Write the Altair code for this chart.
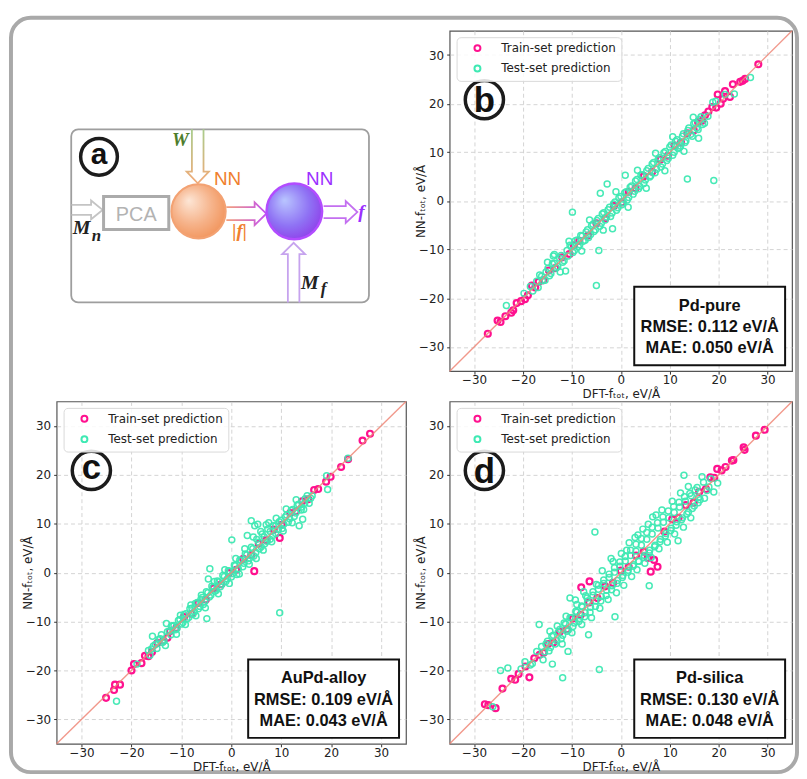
import altair as alt
import pandas as pd

# ---------------- data ----------------
SETS = ["Train-set prediction", "Test-set prediction"]
TICKS = [-30, -20, -10, 0, 10, 20, 30]
LIMITS = [-35, 35]
X_TITLE = "DFT-fₜₒₜ, eV/Å"
Y_TITLE = "NN-fₜₒₜ, eV/Å"

# (DFT force, NN force) pairs, eV/Å
b_train = [(28.1, 28.1), (25.4, 25.1), (24.9, 24.7), (24.4, 24.5), (22.9, 24.0), (22.3, 21.4), (21.3, 22.6),
           (20.9, 21.0), (20.4, 20.0), (19.8, 21.9), (19.5, 19.2), (18.7, 19.3), (17.9, 18.4), (17.2, 17.6),
           (16.6, 16.5), (15.8, 16.2), (14.9, 14.5), (13.6, 13.9), (12.3, 12.0), (11.0, 11.4), (9.6, 9.3),
           (8.1, 8.5), (6.4, 6.0), (4.7, 5.1), (3.0, 2.6), (1.6, 1.9), (0.2, -0.3), (-1.4, -1.0), (-3.2, -3.6),
           (-5.0, -4.6), (-6.7, -7.1), (-8.5, -8.2), (-9.6, -9.1), (-10.5, -10.9), (-12.0, -11.6), (-13.4, -13.8),
           (-14.7, -14.3), (-15.9, -16.3), (-16.8, -16.6), (-17.5, -17.8), (-18.2, -17.4), (-19.0, -19.4),
           (-19.6, -20.2), (-20.4, -20.6), (-21.3, -21.0), (-22.0, -22.5), (-22.4, -23.0), (-23.6, -23.7),
           (-24.6, -24.9), (-25.2, -24.6), (-27.2, -27.3)]
b_test = [(-23.4, -21.5), (-19.8, -19.0), (-18.5, -17.6), (-18.0, -18.5), (-17.2, -16.5), (-16.6, -15.2),
          (-16.0, -16.4), (-15.3, -14.6), (-14.6, -15.4), (-14.0, -12.9), (-13.8, -11.3), (-13.6, -11.0),
          (-13.2, -13.8), (-12.5, -11.8), (-11.9, -12.6), (-11.3, -14.4), (-11.0, -10.2), (-10.4, -9.1),
          (-9.9, -2.3), (-9.8, -10.6), (-9.3, -8.2), (-8.7, -9.4), (-8.2, -7.1), (-7.7, -8.3), (-7.1, -6.4),
          (-6.6, -7.5), (-6.0, -5.1), (-5.5, -6.3), (-5.0, -17.4), (-4.9, -4.0), (-4.5, -10.2), (-4.3, -5.2),
          (-4.2, 1.6), (-3.8, -2.7), (-3.2, -3.9), (-2.8, 3.5), (-2.6, -1.8), (-2.1, -3.2), (-1.7, -5.7),
          (-1.5, -0.6), (-0.9, -1.9), (-0.4, 0.6), (0.2, -0.8), (0.9, 5.3), (0.8, 1.7), (1.3, 0.2), (1.9, 2.8),
          (2.5, 1.4), (3.0, 4.1), (3.6, 2.5), (4.1, 5.3), (4.7, 3.6), (5.3, 6.2), (5.9, 4.9), (6.4, 7.6),
          (7.0, 5.8), (7.6, 8.5), (8.2, 7.0), (8.8, 9.9), (9.4, 8.3), (10.0, 11.1), (10.6, 9.4), (11.2, 12.3),
          (11.7, 10.8), (12.2, 11.3), (12.8, 13.8), (13.3, 12.4), (13.6, 4.5), (13.9, 15.0), (14.6, 13.3),
          (15.2, 16.1), (15.8, 14.7), (16.4, 17.3), (17.1, 16.0), (17.8, 17.4), (18.8, 20.3), (19.0, 4.2),
          (19.4, 20.5), (21.3, 21.9), (23.2, 22.0), (26.5, 25.4),
          (-16.9, -17.8), (-16.2, -15.5), (-15.5, -16.3), (-14.9, -13.9), (-14.3, -14.9), (-13.6, -12.8),
          (-12.9, -13.5), (-12.2, -11.2), (-11.6, -12.3), (-10.8, -11.3), (-10.1, -9.4), (-9.5, -10.2),
          (-8.9, -8.0), (-8.4, -9.0), (-7.9, -7.2), (-7.3, -8.1), (-6.8, -5.9), (-6.2, -6.9), (-5.7, -4.8),
          (-5.2, -5.9), (-4.6, -3.6), (-4.0, -4.6), (-3.5, -2.4), (-2.9, -3.3), (-2.3, -1.3), (-1.8, -2.5),
          (-1.2, -0.2), (-0.6, -1.4), (0.0, 0.9), (0.5, -0.3), (1.1, 1.9), (1.6, 0.7), (2.2, 3.1), (2.8, 2.0),
          (3.3, 4.4), (3.9, 3.0), (4.4, 5.4), (5.0, 4.3), (5.6, 6.7), (6.1, 5.2), (6.7, 7.9), (7.3, 6.5),
          (7.9, 8.9), (8.5, 7.6), (9.1, 10.2), (9.7, 8.8), (10.3, 11.5), (10.9, 10.0), (11.5, 12.6),
          (12.0, 11.0), (12.6, 13.3), (13.1, 12.0), (13.7, 14.5), (14.3, 13.7), (14.9, 15.9), (15.5, 15.0),
          (16.1, 16.8), (16.7, 15.7),
          (-15.0, -12.6), (-12.4, -14.6), (-10.6, -8.3), (-8.0, -10.3), (-6.4, -3.9), (-3.6, -6.0),
          (-1.0, 1.9), (1.5, -1.3), (3.4, 6.3), (5.2, 2.6), (7.1, 9.8), (9.0, 6.2), (10.6, 13.2),
          (12.9, 10.2), (14.8, 17.2), (15.9, 12.9)]
b_stats = ["Pd-pure", "RMSE: 0.112 eV/Å", "MAE: 0.050 eV/Å"]

c_train = [(27.8, 28.4), (26.3, 27.0), (23.4, 23.2), (22.0, 21.6), (19.9, 19.6), (19.0, 18.6), (17.4, 17.1),
           (16.6, 16.9), (15.4, 15.0), (14.2, 14.6), (13.0, 12.6), (11.8, 12.2), (10.1, 9.8), (9.7, 7.1),
           (8.5, 8.8), (7.0, 6.6), (5.5, 5.9), (4.6, 0.3), (4.0, 3.6), (2.4, 2.8), (1.0, 0.6), (-0.5, -0.1),
           (-2.0, -2.4), (-3.6, -3.2), (-5.1, -5.5), (-6.6, -6.2), (-8.0, -8.4), (-9.5, -9.1), (-11.0, -11.3),
           (-12.3, -12.0), (-12.8, -13.3), (-13.6, -13.9), (-14.8, -14.4), (-15.9, -16.2), (-16.6, -17.1),
           (-17.3, -17.0), (-18.0, -18.5), (-19.5, -18.7), (-20.0, -20.0), (-22.3, -22.9), (-23.3, -22.9),
           (-23.5, -24.0), (-25.1, -25.6)]
c_test = [(-23.0, -26.3), (-18.9, -18.7), (-16.6, -15.9), (-16.0, -15.6), (-15.8, -13.0), (-15.2, -14.7),
          (-14.5, -13.6), (-13.8, -14.3), (-13.0, -10.4), (-12.4, -12.0), (-11.8, -10.9), (-11.2, -11.7),
          (-10.6, -9.8), (-10.0, -10.5), (-9.5, -8.6), (-8.9, -9.5), (-8.3, -7.4), (-7.7, -8.5), (-7.2, -6.3),
          (-6.6, -7.4), (-6.1, -5.5), (-5.6, -6.5), (-5.0, -3.9), (-4.9, -9.4), (-4.6, -1.3), (-4.4, -5.0),
          (-4.3, 0.8), (-3.9, -2.8), (-3.3, -3.8), (-2.8, -1.7), (-2.2, -2.9), (-1.7, -0.6), (-1.1, -1.8),
          (-0.6, 0.4), (0.0, -0.9), (0.1, 6.7), (0.6, 1.5), (1.1, -0.4), (1.7, 2.6), (2.3, 1.2), (2.8, 3.8),
          (3.2, 7.6), (3.4, 2.4), (4.0, 5.2), (4.0, 10.6), (4.5, 3.4), (4.7, 9.6), (5.1, 6.8), (5.3, 9.9),
          (5.6, 4.9), (6.2, 7.9), (6.7, 5.9), (7.3, 8.9), (7.5, 10.2), (7.8, 6.8), (8.4, 9.6), (8.9, 8.0),
          (9.6, 10.4), (9.7, -8.2), (10.2, 9.0), (10.8, 11.4), (11.4, 10.3), (12.0, 12.7), (12.6, 11.5),
          (13.2, 13.8), (13.6, 9.6), (14.0, 12.8), (14.3, 10.9), (14.8, 15.1), (15.6, 14.2), (16.2, 15.7),
          (19.1, 19.8), (19.3, 17.0), (23.4, 23.4),
          (-16.3, -16.9), (-15.6, -15.0), (-14.9, -15.5), (-14.2, -13.5), (-13.5, -14.0), (-12.8, -12.1),
          (-12.1, -12.7), (-11.5, -10.8), (-10.9, -11.4), (-10.3, -9.6), (-9.7, -10.2), (-9.1, -8.4),
          (-8.5, -9.1), (-7.9, -7.3), (-7.4, -8.0), (-6.8, -6.1), (-6.3, -6.9), (-5.8, -5.1), (-5.3, -5.9),
          (-4.7, -4.1), (-4.1, -4.6), (-3.6, -3.0), (-3.0, -3.6), (-2.5, -1.9), (-1.9, -2.4), (-1.4, -0.8),
          (-0.8, -1.3), (-0.3, 0.3), (0.3, -0.2), (0.8, 1.4), (1.4, 0.8), (2.0, 2.5), (2.5, 1.9), (3.1, 3.6),
          (3.7, 3.0), (4.3, 4.9), (4.9, 4.1), (5.5, 6.2), (6.0, 5.3), (6.6, 7.3), (7.2, 6.4), (7.8, 8.4),
          (8.3, 7.6), (8.9, 9.6), (9.4, 8.8), (10.0, 10.7), (10.5, 9.9), (11.1, 11.8), (11.7, 11.0),
          (12.3, 12.9), (12.9, 12.2), (13.5, 14.0), (14.1, 13.4), (14.7, 14.2), (15.2, 15.7), (15.9, 15.2),
          (-14.0, -12.7), (-13.2, -14.9), (-12.0, -10.9), (-11.0, -12.6), (-10.2, -8.7), (-9.2, -10.6),
          (-8.1, -6.6), (-7.1, -8.8), (-6.0, -4.6), (-5.2, -7.2), (-3.4, -1.8), (-2.6, -4.3), (-1.3, 0.6),
          (-0.4, -2.2), (0.9, 2.9), (1.6, -0.3), (2.7, 4.9), (3.6, 1.7), (4.4, 7.3), (5.0, 2.9), (5.9, 8.4),
          (6.4, 4.6), (7.0, 9.8), (8.1, 6.3), (9.0, 11.1), (10.4, 8.5), (11.0, 13.0), (12.2, 10.2),
          (13.0, 14.9), (14.5, 12.9)]
c_stats = ["AuPd-alloy", "RMSE: 0.109 eV/Å", "MAE: 0.043 eV/Å"]

d_train = [(29.4, 29.2), (27.6, 28.0), (25.1, 25.6), (25.3, 25.1), (23.0, 23.0), (22.7, 22.9), (21.4, 21.6),
           (20.6, 20.9), (19.7, 21.2), (19.1, 19.4), (18.3, 19.5), (17.4, 17.1), (16.0, 16.5), (14.9, 14.3),
           (13.3, 13.8), (11.8, 11.2), (10.5, 10.9), (8.9, 8.4), (7.5, 1.2), (6.1, 0.2), (6.8, 2.6), (5.5, 3.0),
           (4.7, 4.3), (3.1, 3.5), (1.6, 1.2), (0.0, 0.4), (-1.6, -2.1), (-3.2, -2.8), (-4.8, -5.2), (-6.4, -1.8),
           (-8.1, -3.0), (-6.5, -6.1), (-8.2, -8.6), (-9.8, -9.4), (-11.0, -11.6), (-12.5, -12.1), (-13.8, -14.3),
           (-14.9, -14.6), (-15.8, -16.4), (-16.6, -16.8), (-17.7, -17.5), (-18.7, -21.4), (-19.5, -19.2),
           (-20.9, -20.7), (-21.6, -21.9), (-22.4, -21.7), (-24.2, -23.7), (-25.6, -27.7), (-27.1, -27.1),
           (-27.8, -26.9)]
d_test = [(-26.2, -27.4), (-24.6, -20.0), (-23.1, -19.5), (-20.4, -19.7), (-19.6, -18.2), (-18.5, -18.9),
          (-16.7, -10.6), (-16.2, -15.1), (-15.6, -16.2), (-15.0, -14.0), (-14.4, -15.3), (-14.0, -18.7),
          (-13.8, -12.8), (-13.1, -13.9), (-12.5, -11.6), (-11.9, -21.5), (-11.9, -12.8), (-11.3, -10.5),
          (-10.8, -16.1), (-10.7, -11.7), (-10.4, -5.2), (-10.1, -9.2), (-9.5, -10.3), (-9.3, -5.6), (-9.0, -8.1),
          (-8.4, -9.4), (-7.9, -7.0), (-7.6, -3.9), (-7.3, -8.2), (-6.8, -5.9), (-6.6, -12.7), (-6.2, -7.1),
          (-5.7, -4.6), (-5.3, 8.3), (-5.1, -5.8), (-4.6, -3.4), (-4.4, -19.8), (-4.0, -4.9), (-3.5, -2.2),
          (-2.9, -3.6), (-2.4, -1.0), (-2.0, 2.9), (-1.8, -2.7), (-1.3, 0.1), (-1.2, -9.0), (-0.7, -1.6),
          (-0.2, 1.3), (0.4, -0.6), (0.9, 2.4), (1.2, 4.6), (1.5, 0.5), (2.0, 3.5), (2.6, 1.6), (3.1, 4.4),
          (3.5, 7.7), (3.7, 2.3), (4.2, 5.6), (4.8, 3.5), (5.3, 6.8), (5.8, -2.7), (5.9, 4.6), (6.4, 7.9),
          (6.5, 11.4), (7.0, 5.6), (7.6, 9.1), (8.1, 6.8), (8.7, 10.3), (9.2, 8.0), (9.8, 11.2), (10.3, 9.1),
          (10.9, 12.3), (11.4, 10.4), (11.7, 6.5), (12.0, 13.4), (12.6, 11.2), (12.9, 19.9), (13.2, 14.6),
          (13.8, 12.4), (14.4, 15.7), (15.0, 13.6), (15.6, 17.4), (16.2, 14.9), (16.9, 18.5), (17.6, 16.8),
          (18.4, 19.2), (19.0, 16.5), (19.8, 18.3),
          (-15.3, -14.6), (-14.7, -16.0), (-14.1, -13.0), (-13.4, -14.6), (-12.8, -12.2), (-12.2, -13.5),
          (-11.6, -10.3), (-11.0, -12.0), (-10.4, -9.2), (-9.8, -11.0), (-9.2, -7.9), (-8.6, -10.0),
          (-8.0, -6.8), (-7.4, -9.0), (-6.9, -5.2), (-6.3, -8.1), (-5.7, -3.9), (-5.2, -6.9), (-4.6, -2.6),
          (-4.1, -5.8), (-3.5, -1.5), (-3.0, -4.7), (-2.4, -0.3), (-1.9, -3.5), (-1.3, 1.0), (-0.8, -2.2),
          (-0.2, 2.2), (0.3, -1.0), (0.9, 3.3), (1.4, 0.1), (2.0, 4.6), (2.5, 1.3), (3.1, 5.8), (3.6, 2.4),
          (4.2, 7.0), (4.7, 3.1), (5.3, 8.2), (5.8, 4.0), (6.4, 9.3), (6.9, 5.3), (7.5, 10.2), (8.0, 6.3),
          (8.6, 11.4), (9.1, 7.5), (9.7, 12.6), (10.2, 8.6), (10.8, 13.5), (11.3, 9.7), (11.9, 14.4),
          (12.4, 10.8), (13.0, 15.5), (13.5, 12.0), (14.1, 16.2), (14.6, 13.1), (15.2, 16.9), (15.8, 14.3),
          (-13.0, -10.9), (-12.0, -14.6), (-11.2, -8.9), (-10.0, -12.3), (-9.0, -6.5), (-8.0, -10.6),
          (-7.2, -4.7), (-6.0, -9.2), (-5.0, -2.4), (-4.3, -7.3), (-3.8, 0.4), (-2.6, -5.5), (-1.6, 2.3),
          (-0.9, -4.1), (0.1, 3.9), (0.6, -2.6), (1.7, 6.1), (2.2, -0.8), (2.9, 7.2), (3.3, 0.6), (4.5, 8.9),
          (4.9, 1.9), (5.6, 9.9), (6.2, 3.1), (7.2, 11.8), (7.8, 4.9), (8.4, 12.8), (9.5, 6.2), (10.5, 14.6),
          (11.0, 7.9), (12.2, 16.3), (12.8, 9.3), (13.8, 17.6), (14.3, 11.2), (-14.5, -12.0), (-15.9, -17.8),
          (16.6, 19.6), (17.1, 15.2), (18.0, 17.5), (15.9, 15.4), (-17.2, -16.1), (-18.1, -18.6)]
d_stats = ["Pd-silica", "RMSE: 0.130 eV/Å", "MAE: 0.048 eV/Å"]

# ---------------- styles ----------------
TRAIN_C = "#ff118f"
TEST_C = "#3ee9b3"
AX_FONT = "DejaVu Sans"
SANS = "Liberation Sans"
SERIF = "Liberation Serif, DejaVu Serif"
ONE = pd.DataFrame({"k": [0]})


def vtext(txt, x, y, size, color="#111", font=SANS, weight="normal", style="normal",
          align="left", baseline="alphabetic"):
    return alt.Chart(ONE).mark_text(font=font, fontSize=size, fontWeight=weight, fontStyle=style,
                                    color=color, align=align, baseline=baseline).encode(
        x=alt.value(x), y=alt.value(y), text=alt.value(txt))


def ring(x, y, size, color="#1c1c1c", width=3.5):
    return alt.Chart(ONE).mark_point(shape="circle", filled=False, size=size, stroke=color,
                                     strokeWidth=width, opacity=1).encode(x=alt.value(x), y=alt.value(y))


def outline(points, stroke, width=1.8):
    df = pd.DataFrame({"px": [p[0] for p in points], "py": [p[1] for p in points],
                       "i": list(range(len(points)))})
    return alt.Chart(df).mark_line(stroke=stroke, strokeWidth=width, strokeJoin="miter").encode(
        x=alt.X("px:Q", scale=None, axis=None), y=alt.Y("py:Q", scale=None, axis=None), order="i:Q")


def scatter_panel(letter, letter_base, train, test, stats, w, h):
    df = pd.DataFrame({
        "dft": [p[0] for p in train] + [p[0] for p in test],
        "nn": [p[1] for p in train] + [p[1] for p in test],
        "set": [SETS[0]] * len(train) + [SETS[1]] * len(test),
    })
    axis_style = dict(values=TICKS, grid=True, gridDash=[4, 3], gridColor="#cfcfcf", gridWidth=0.9,
                      domain=False, ticks=True, tickSize=3, tickColor="#333", tickWidth=1,
                      labelFont=AX_FONT, labelFontSize=12, labelColor="#222",
                      labelFlush=False, labelOverlap=False, titleFont=AX_FONT, titleFontSize=12,
                      titleFontWeight="normal", titleColor="#222", titleBaseline="middle")
    xaxis = alt.Axis(title=X_TITLE, titleY=22.5, labelPadding=0.5, **axis_style)
    yaxis = alt.Axis(title=Y_TITLE, titleX=-29, titleY=h / 2, labelPadding=3, **axis_style)
    xs = alt.Scale(domain=LIMITS, nice=False, zero=False)
    ys = alt.Scale(domain=LIMITS, nice=False, zero=False)
    legend = alt.Legend(orient="none", legendX=7, legendY=6.5, title=None,
                        fillColor="rgba(255,255,255,0.85)", strokeColor="#d9d9d9", cornerRadius=4,
                        padding=5, symbolType="circle", symbolSize=36, symbolStrokeWidth=2,
                        symbolOffset=10, labelOffset=18, labelFont=AX_FONT, labelFontSize=12,
                        labelColor="#222", rowPadding=6.5, labelLimit=400)
    color = alt.Color("set:N", scale=alt.Scale(domain=SETS, range=[TRAIN_C, TEST_C]), legend=legend)
    base = alt.Chart(df).encode(x=alt.X("dft:Q", scale=xs, axis=xaxis),
                                y=alt.Y("nn:Q", scale=ys, axis=yaxis), color=color)
    tr = base.mark_point(filled=False, size=36, strokeWidth=2.2, opacity=1).transform_filter(
        alt.datum.set == SETS[0])
    te = base.mark_point(filled=False, size=36, strokeWidth=1.5, opacity=0.95).transform_filter(
        alt.datum.set == SETS[1])
    diag = alt.Chart(pd.DataFrame({"dft": LIMITS, "nn": LIMITS})).mark_line(
        color="#ee8677", strokeWidth=1.4, opacity=0.85).encode(
        x=alt.X("dft:Q", scale=xs, axis=xaxis), y=alt.Y("nn:Q", scale=ys, axis=yaxis))
    box = alt.Chart(ONE).mark_rect(fill="white", stroke="#111", strokeWidth=2).encode(
        x=alt.value(w - 159), x2=alt.value(w - 7), y=alt.value(h - 85), y2=alt.value(h - 6))
    lines = [vtext(s, w - 83, h - 44.5 + (i - 1) * 21.6, 16.5, weight="bold", align="center",
                   baseline="middle") for i, s in enumerate(stats)]
    lring = ring(35, 69.5, 1482)
    ltxt = vtext(letter, 35, letter_base, 35, color="#111", weight="bold", align="center")
    return alt.layer(tr, te, diag, box, *lines, lring, ltxt).properties(
        width=w, height=h, view=alt.ViewBackground(stroke="#555", strokeWidth=1.2))


# ---------------- panel (a): diagram ----------------
orange_grad = alt.RadialGradient(gradient="radial", x1=0.32, y1=0.3, r1=0, x2=0.45, y2=0.45, r2=0.7,
                                 stops=[alt.GradientStop(color="#fde6d6", offset=0),
                                        alt.GradientStop(color="#f6b48c", offset=0.5),
                                        alt.GradientStop(color="#f08a4c", offset=1)])
purple_grad = alt.RadialGradient(gradient="radial", x1=0.32, y1=0.3, r1=0, x2=0.45, y2=0.45, r2=0.7,
                                 stops=[alt.GradientStop(color="#b9c6ff", offset=0),
                                        alt.GradientStop(color="#8f72f4", offset=0.55),
                                        alt.GradientStop(color="#8e2fe6", offset=1)])
w_grad = alt.LinearGradient(gradient="linear", x1=0, y1=0, x2=0, y2=1,
                            stops=[alt.GradientStop(color="#a9cc8c", offset=0),
                                   alt.GradientStop(color="#f2aa78", offset=1)])
mid_grad = alt.LinearGradient(gradient="linear", x1=0, y1=0, x2=1, y2=0,
                              stops=[alt.GradientStop(color="#f4a07a", offset=0),
                                     alt.GradientStop(color="#c24ff2", offset=1)])

border = alt.Chart(ONE).mark_rect(fill="transparent", stroke="#a9a9a9", strokeWidth=4, cornerRadius=20).encode(
    x=alt.value(-46), x2=alt.value(746), y=alt.value(-13), y2=alt.value(747))
dbox = alt.Chart(ONE).mark_rect(fill="white", stroke="#9e9e9e", strokeWidth=1.8, cornerRadius=7).encode(
    x=alt.value(14.7), x2=alt.value(314.7), y=alt.value(99.3), y2=alt.value(273.7))
pca_box = alt.Chart(ONE).mark_rect(fill="transparent", stroke="#ababab", strokeWidth=3).encode(
    x=alt.value(47.3), x2=alt.value(113), y=alt.value(167), y2=alt.value(200.3))
node1 = alt.Chart(ONE).mark_point(shape="circle", filled=True, fill=orange_grad, stroke="#f3a273",
                                  strokeWidth=2, size=2992, opacity=1).encode(x=alt.value(143), y=alt.value(182))
node2 = alt.Chart(ONE).mark_point(shape="circle", filled=True, fill=purple_grad, stroke="#b24cff",
                                  strokeWidth=2.5, size=3136, opacity=1).encode(x=alt.value(239.5), y=alt.value(182))

in_arrow = outline([(15, 175.5), (34.7, 175.5), (34.7, 171), (46.3, 180.5), (34.7, 190), (34.7, 185.5), (15, 185.5)], "#c4c4c4")
w_arrow = outline([(136.3, 99.3), (136.3, 142), (131, 142), (142.2, 153.7), (153.4, 142), (148, 142), (148, 99.3)], w_grad)
mid_arrow = outline([(171, 177.8), (199.5, 177.8), (199.5, 172.8), (211.3, 184.3), (199.5, 195.8), (199.5, 190.8), (171, 190.8)], mid_grad)
out_arrow = outline([(269, 176.7), (291.3, 176.7), (291.3, 171.7), (303, 182.7), (291.3, 193.7), (291.3, 188.7), (269, 188.7)], "#c36ff0")
mf_arrow = outline([(233, 273.7), (233, 225), (227.3, 225), (238.8, 213.7), (250.3, 225), (244.6, 225), (244.6, 273.7)], "#c6a3ee")

panel_a = alt.layer(
    border, dbox,
    ring(42.7, 127, 1369), vtext("a", 42.7, 134, 30, weight="bold", align="center"),
    in_arrow, pca_box, vtext("PCA", 80.2, 191.5, 20, color="#b3b3b3", align="center"),
    w_arrow, mid_arrow, out_arrow, mf_arrow, node1, node2,
    vtext("NN", 158.5, 155.3, 19, color="#f07f2e"),
    vtext("NN", 251.3, 155.3, 19, color="#9b30ff"),
    vtext("W", 116.3, 116.5, 19, color="#4e7d2b", font=SERIF, weight="bold", style="italic"),
    vtext("|f|", 177, 207.5, 19, color="#f07f2e", font=SERIF, weight="bold", style="italic"),
    vtext("f", 304, 189, 19, color="#9b30ff", font=SERIF, weight="bold", style="italic"),
    vtext("M", 16.3, 205.3, 20, color="#222", font=SERIF, weight="bold", style="italic"),
    vtext("n", 35.5, 212, 17, color="#222", font=SERIF, weight="bold", style="italic"),
    vtext("M", 246.3, 260.3, 20, color="#222", font=SERIF, weight="bold", style="italic"),
    vtext("f", 266, 265, 17, color="#222", font=SERIF, weight="bold", style="italic"),
).properties(width=352, height=343, view=alt.ViewBackground(strokeOpacity=0))

panel_b = scatter_panel("b", 82, b_train, b_test, b_stats, 345, 343)
panel_c = scatter_panel("c", 78, c_train, c_test, c_stats, 352, 345)
panel_d = scatter_panel("d", 82, d_train, d_test, d_stats, 345, 345)

chart = alt.concat(panel_a, panel_b, panel_c, panel_d, columns=2, bounds="flush",
                   spacing={"row": 30.5, "column": 44}).resolve_legend(color="independent").properties(
    padding={"left": 1, "top": 5, "right": 0, "bottom": 0}, background="white"
).configure(font=AX_FONT)

chart.save("out.html", embed_options={"renderer": "svg", "actions": False})
